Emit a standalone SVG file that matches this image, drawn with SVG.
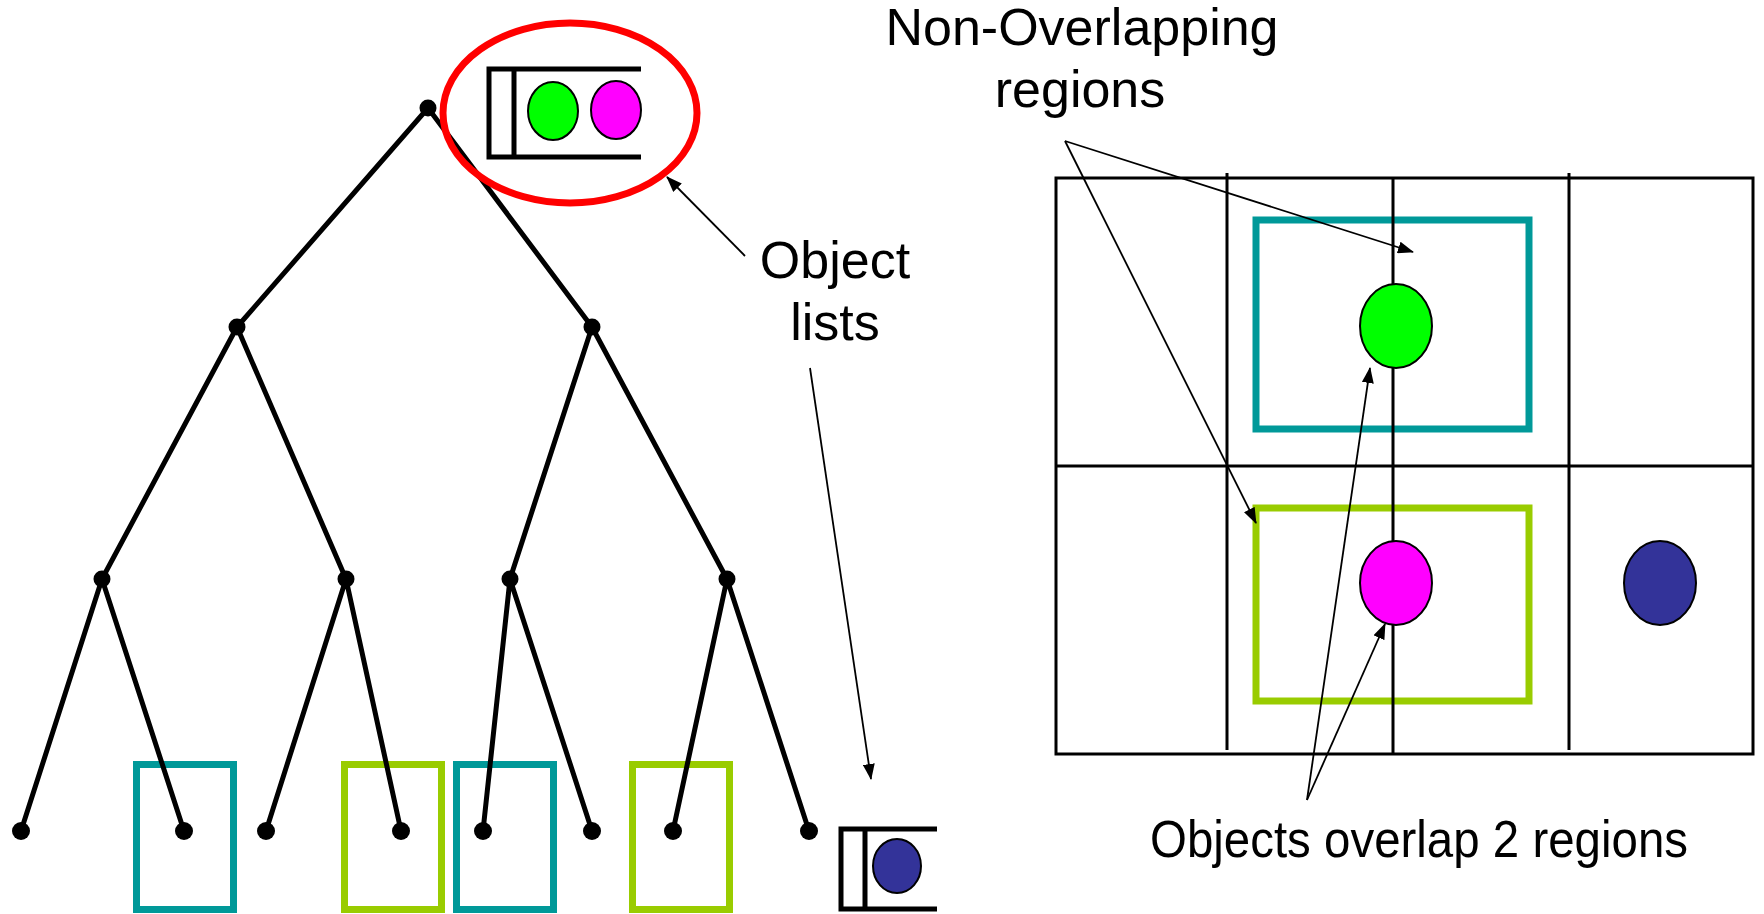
<svg xmlns="http://www.w3.org/2000/svg" width="1764" height="914" viewBox="0 0 1764 914">
  <style>
    .edge { stroke: #000; stroke-width: 5; fill: none; stroke-linecap: round; }
    .dot { fill: #000; }
    .teal { fill: none; stroke: #009999; stroke-width: 7; }
    .lime { fill: none; stroke: #99CC00; stroke-width: 7; }
    .list { stroke: #000; stroke-width: 5; fill: none; }
    .obj { stroke: #000; stroke-width: 2; }
    .grid { stroke: #000; stroke-width: 3; fill: none; }
    .ptr { stroke: #000; stroke-width: 1.8; fill: none; marker-end: url(#head); }
    .lbl { font-family: "Liberation Sans", Arial, sans-serif; font-size: 52px; fill: #000; }
  </style>
  <defs>
    <marker id="head" viewBox="0 0 16 12" refX="15" refY="6" markerWidth="16" markerHeight="12" markerUnits="userSpaceOnUse" orient="auto">
      <path d="M0,0 L16,6 L0,12 Z" fill="#000"/>
    </marker>
  </defs>
  <rect width="1764" height="914" fill="#fff"/>

  <!-- leaf region boxes of the tree -->
  <g id="leaf-boxes">
    <rect class="teal" x="136.5" y="764.5" width="97" height="145"/>
    <rect class="lime" x="344.5" y="764.5" width="97" height="145"/>
    <rect class="teal" x="456.5" y="764.5" width="97" height="145"/>
    <rect class="lime" x="632.5" y="764.5" width="97" height="145"/>
  </g>

  <!-- hierarchy edges -->
  <g id="connectors">
    <g id="tree-edges">
      <path class="edge" d="M428,108 L237,327 M428,108 L592,327"/>
      <path class="edge" d="M237,327 L102,579 M237,327 L346,579 M592,327 L510,579 M592,327 L727,579"/>
      <path class="edge" d="M102,579 L21,831 M102,579 L184,831 M346,579 L266,831 M346,579 L401,831"/>
      <path class="edge" d="M510,579 L483,831 M510,579 L592,831 M727,579 L673,831 M727,579 L809,831"/>
    </g>
  </g>

  <!-- tree nodes -->
  <g id="node-root"><circle class="dot" cx="428" cy="108" r="8.5"/></g>
  <g id="node-l"><circle class="dot" cx="237" cy="327" r="8.5"/></g>
  <g id="node-r"><circle class="dot" cx="592" cy="327" r="8.5"/></g>
  <g id="node-ll"><circle class="dot" cx="102" cy="579" r="8.5"/></g>
  <g id="node-lr"><circle class="dot" cx="346" cy="579" r="8.5"/></g>
  <g id="node-rl"><circle class="dot" cx="510" cy="579" r="8.5"/></g>
  <g id="node-rr"><circle class="dot" cx="727" cy="579" r="8.5"/></g>
  <g id="leaves">
    <circle class="dot" cx="21" cy="831" r="9"/>
    <circle class="dot" cx="184" cy="831" r="9"/>
    <circle class="dot" cx="266" cy="831" r="9"/>
    <circle class="dot" cx="401" cy="831" r="9"/>
    <circle class="dot" cx="483" cy="831" r="9"/>
    <circle class="dot" cx="592" cy="831" r="9"/>
    <circle class="dot" cx="673" cy="831" r="9"/>
    <circle class="dot" cx="809" cy="831" r="9"/>
  </g>

  <!-- object list held at the root -->
  <g id="root-list">
    <path class="list" d="M641,69 L489,69 L489,157 L641,157 M514,69 L514,157"/>
    <ellipse class="obj" cx="553" cy="111" rx="25" ry="29" fill="#00FF00"/>
    <ellipse class="obj" cx="616" cy="110" rx="25" ry="29" fill="#FF00FF"/>
    <ellipse cx="570" cy="113" rx="127" ry="90" fill="none" stroke="#FF0000" stroke-width="7"/>
  </g>

  <!-- object list held at a leaf -->
  <g id="leaf-list">
    <path class="list" d="M937,829 L841,829 L841,909 L937,909 M865,829 L865,909"/>
    <ellipse class="obj" cx="897" cy="866" rx="24" ry="27" fill="#333399"/>
  </g>

  <!-- spatial grid -->
  <g id="grid">
    <rect class="teal" x="1256" y="220" width="273" height="209" stroke-width="6"/>
    <rect class="lime" x="1256" y="508" width="273" height="193" stroke-width="6"/>
    <rect class="grid" x="1056" y="178" width="697" height="576"/>
    <line class="grid" x1="1056" y1="466" x2="1753" y2="466" stroke-width="4"/>
    <line class="grid" x1="1227" y1="173" x2="1227" y2="750"/>
    <line class="grid" x1="1393" y1="178" x2="1393" y2="754"/>
    <line class="grid" x1="1569" y1="173" x2="1569" y2="750"/>
  </g>
  <g id="obj-green"><ellipse class="obj" cx="1396" cy="326" rx="36" ry="42" fill="#00FF00"/></g>
  <g id="obj-magenta"><ellipse class="obj" cx="1396" cy="583" rx="36" ry="42" fill="#FF00FF"/></g>
  <g id="obj-blue"><ellipse class="obj" cx="1660" cy="583" rx="36" ry="42" fill="#333399"/></g>

  <!-- callout pointers -->
  <g id="pointers">
    <line class="ptr" x1="745" y1="256" x2="667" y2="177"/>
    <line class="ptr" x1="810" y1="368" x2="871" y2="779"/>
    <line class="ptr" x1="1065" y1="141" x2="1413" y2="252"/>
    <line class="ptr" x1="1065" y1="141" x2="1256" y2="523"/>
    <line class="ptr" x1="1307" y1="800" x2="1370" y2="368"/>
    <line class="ptr" x1="1307" y1="800" x2="1385" y2="624"/>
  </g>

  <!-- labels -->
  <g id="label-object-lists">
    <text class="lbl" x="835" y="278" text-anchor="middle">Object</text>
    <text class="lbl" x="835" y="340" text-anchor="middle">lists</text>
  </g>
  <g id="label-regions">
    <text class="lbl" x="1082" y="45" text-anchor="middle">Non-Overlapping</text>
    <text class="lbl" x="1080" y="107" text-anchor="middle">regions</text>
  </g>
  <g id="label-overlap">
    <text class="lbl" x="1150" y="857" textLength="538" lengthAdjust="spacingAndGlyphs">Objects overlap 2 regions</text>
  </g>
</svg>
